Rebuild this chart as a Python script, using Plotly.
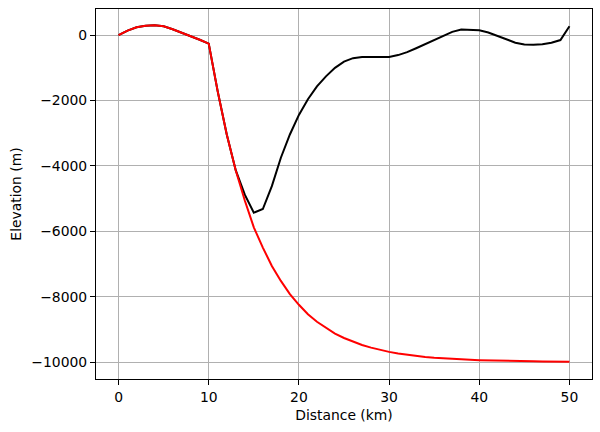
import plotly.graph_objects as go

# Distance (km)
distance = list(range(0, 51))

# Red profile (elevation, m)
red_elev = [0, 140, 240, 290, 300, 270, 180, 80, -40, -140,
            -260, -1730, -3040, -4140, -5060, -5880, -6500, -7060, -7520, -7920,
            -8250, -8540, -8770, -8960, -9130, -9265, -9380, -9480, -9560, -9630,
            -9690, -9740, -9780, -9815, -9845, -9870, -9890, -9905, -9920, -9933,
            -9944, -9953, -9960, -9966, -9972, -9976, -9980, -9983, -9986, -9988,
            -9990]

# Black profile (elevation, m)
black_elev = [0, 140, 240, 290, 300, 270, 180, 80, -40, -140,
              -260, -1730, -3040, -4140, -4880, -5430, -5320, -4620, -3750, -3040,
              -2440, -1960, -1570, -1260, -1000, -810, -705, -670, -665, -670,
              -665, -610, -520, -400, -270, -140, -20, 100, 170, 170,
              150, 80, -20, -140, -230, -285, -295, -280, -230, -150,
              270]

x_ticks = [0, 10, 20, 30, 40, 50]
y_ticks = [-10000, -8000, -6000, -4000, -2000, 0]
y_tick_labels = ["\u221210000", "\u22128000", "\u22126000", "\u22124000", "\u22122000", "0"]

fig = go.Figure()
fig.add_trace(go.Scatter(x=distance, y=black_elev, mode="lines",
                         line=dict(color="black", width=2), showlegend=False))
fig.add_trace(go.Scatter(x=distance, y=red_elev, mode="lines",
                         line=dict(color="red", width=2), showlegend=False))

axis_common = dict(
    showline=True, mirror=True, linecolor="black", linewidth=1.1,
    ticks="outside", ticklen=5, tickwidth=1.1, tickcolor="black",
    showgrid=True, gridcolor="#b0b0b0", gridwidth=1.1, zeroline=False,
    tickfont=dict(family="DejaVu Sans", size=13.9, color="black"),
)

fig.update_layout(
    width=600, height=432,
    margin=dict(l=96, r=8, t=9, b=53),
    plot_bgcolor="white", paper_bgcolor="white",
    font=dict(family="DejaVu Sans", size=13.9, color="black"),
    xaxis=dict(range=[-2.5, 52.5], tickvals=x_ticks,
               title=dict(text="Distance (km)", standoff=6,
                          font=dict(family="DejaVu Sans", size=13.9)),
               **axis_common),
    yaxis=dict(range=[-10520, 800], tickvals=y_ticks, ticktext=y_tick_labels,
               title=dict(text="Elevation (m)", standoff=6,
                          font=dict(family="DejaVu Sans", size=13.9)),
               **axis_common),
)

fig.write_html("out.html")
